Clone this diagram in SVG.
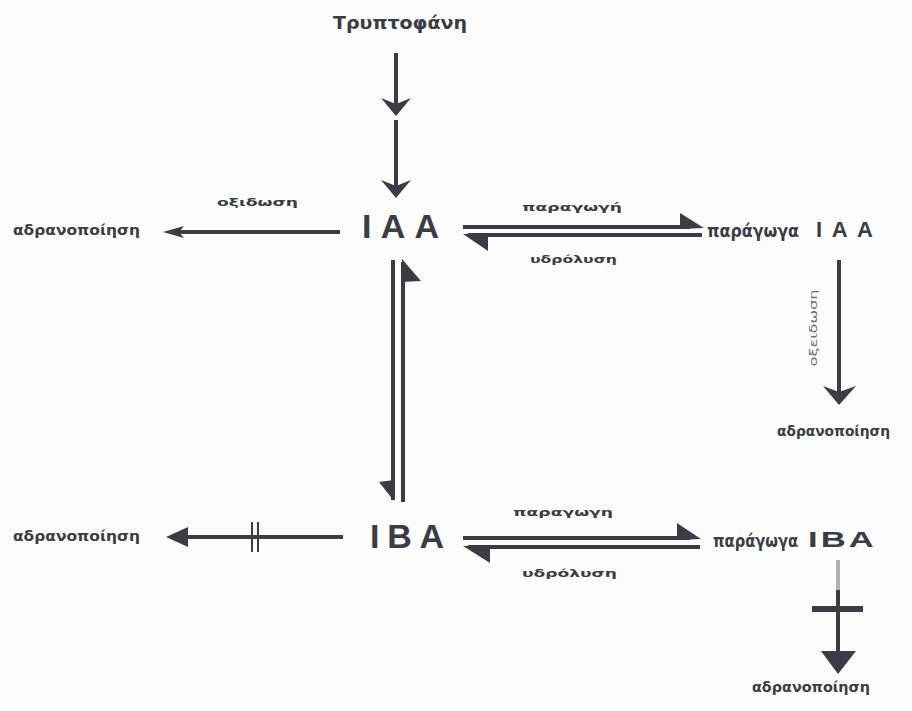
<svg xmlns="http://www.w3.org/2000/svg" width="912" height="711" viewBox="0 0 912 711">
<style>
text{font-family:"DejaVu Sans","Liberation Sans",Arial,sans-serif;fill:#3a3d45;font-weight:bold}
.lbl{font-size:14px}
.sm{font-size:11px}
.big{font-size:34px;font-family:"Liberation Sans","DejaVu Sans",sans-serif}
.mid{font-size:17px}
.mid2{font-size:22px;font-family:"Liberation Sans","DejaVu Sans",sans-serif}
.ln{stroke:#3a3d45;stroke-width:4;fill:none}
.thin{stroke:#3a3d45;stroke-width:2;fill:none}
.ah{fill:#3a3d45}
</style>
<rect width="912" height="711" fill="#fcfcfc"/>
<g id="tryptophan"><text x="333" y="29" font-size="17" textLength="134" lengthAdjust="spacingAndGlyphs">Τρυπτοφάνη</text></g>
<g id="IAA"><text class="big" x="362" y="238" textLength="77">IAA</text></g>
<g id="inact1"><text class="lbl" x="13" y="235" textLength="127" lengthAdjust="spacingAndGlyphs">αδρανοποίηση</text></g>
<g id="derivIAA"><text class="mid" x="707" y="237" textLength="92" lengthAdjust="spacingAndGlyphs">παράγωγα</text><text class="mid2" x="816" y="237" textLength="57">IAA</text></g>
<g id="inact2"><text class="lbl" x="777" y="436" textLength="113" lengthAdjust="spacingAndGlyphs">αδρανοποίηση</text></g>
<g id="IBA"><text class="big" x="370" y="548" textLength="74">IBA</text></g>
<g id="inact3"><text class="lbl" x="13" y="541" textLength="127" lengthAdjust="spacingAndGlyphs">αδρανοποίηση</text></g>
<g id="derivIBA"><text class="mid" x="713" y="547" textLength="85" lengthAdjust="spacingAndGlyphs">παράγωγα</text><text class="mid2" x="808" y="547" font-size="23" letter-spacing="2" textLength="69" lengthAdjust="spacingAndGlyphs">IBA</text></g>
<g id="inact4"><text class="lbl" x="752" y="692" textLength="118" lengthAdjust="spacingAndGlyphs">αδρανοποίηση</text></g>
<g id="connectors">
<line class="ln" x1="396" y1="53" x2="396" y2="114"/>
<path class="ah" d="M381,98 L396,104 L411,98 L396,116 Z"/>
<line class="ln" x1="396" y1="120" x2="396" y2="195"/>
<path class="ah" d="M381,180 L396,186 L411,180 L396,198 Z"/>
<line class="ln" x1="178" y1="232" x2="340" y2="232"/>
<path class="ah" d="M163,232 L184,226 L179,232 L184,238 Z"/>
<text class="sm" x="217" y="206" textLength="81" lengthAdjust="spacingAndGlyphs">οξιδωση</text>
<line class="ln" x1="463" y1="227" x2="690" y2="227"/>
<path class="ah" d="M680,213 L704,228 L680,229 Z"/>
<line class="ln" x1="468" y1="235" x2="702" y2="235"/>
<path class="ah" d="M463,234 L488,233 L488,251 Z"/>
<text class="sm" x="522" y="211" textLength="100" lengthAdjust="spacingAndGlyphs">παραγωγή</text>
<text class="sm" x="530" y="263" textLength="87" lengthAdjust="spacingAndGlyphs">υδρόλυση</text>
<line class="ln" x1="839" y1="260" x2="839" y2="400"/>
<path class="ah" d="M823,386 L839,392 L856,386 L839,405 Z"/>
<text font-size="11" style="fill:#6a6d75;font-weight:normal" transform="translate(817,328) rotate(-90)" text-anchor="middle" textLength="77" lengthAdjust="spacingAndGlyphs">οξειδωση</text>
<line class="ln" x1="393" y1="260" x2="393" y2="500"/>
<path class="ah" d="M394,501 L379,482 L394,480 Z"/>
<line class="ln" x1="403" y1="262" x2="403" y2="502"/>
<path class="ah" d="M402,259 L421,281 L402,282 Z"/>
<line class="ln" x1="184" y1="537" x2="343" y2="537"/>
<path class="ah" d="M166,537 L188,527 L188,547 Z"/>
<line class="thin" x1="252" y1="522" x2="252" y2="552"/>
<line class="thin" x1="258" y1="522" x2="258" y2="552"/>
<line class="ln" x1="463" y1="538" x2="690" y2="538"/>
<path class="ah" d="M677,523 L701,539 L677,540 Z"/>
<line class="ln" x1="468" y1="547" x2="700" y2="547"/>
<path class="ah" d="M463,546 L490,545 L490,563 Z"/>
<text class="sm" x="513" y="516" textLength="100" lengthAdjust="spacingAndGlyphs">παραγωγη</text>
<text class="sm" x="522" y="577" textLength="95" lengthAdjust="spacingAndGlyphs">υδρόλυση</text>
<line x1="838" y1="560" x2="838" y2="590" stroke="#b0b2b8" stroke-width="4"/>
<line class="ln" x1="838" y1="590" x2="838" y2="655"/>
<line x1="812" y1="609" x2="863" y2="609" stroke="#3a3d45" stroke-width="6"/>
<path class="ah" d="M821,651 L856,651 L838,674 Z"/>
</g>
</svg>
